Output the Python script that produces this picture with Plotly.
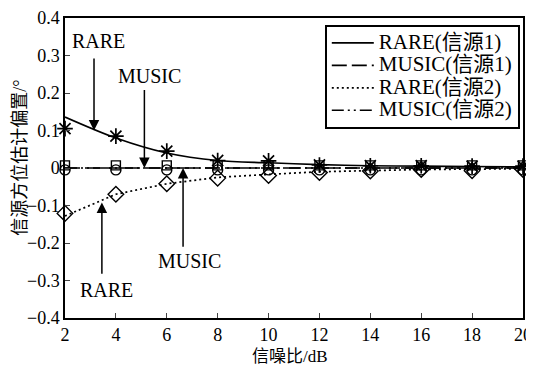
import plotly.graph_objects as go

snr = [2, 4, 6, 8, 10, 12, 14, 16, 18, 20]

# theoretical curves (lines)
rare1_line = [0.136, 0.080, 0.040, 0.020, 0.014, 0.009, 0.006, 0.005, 0.004, 0.003]
music1_line = [0, 0, 0, 0, 0, 0, 0, 0, 0, 0]
rare2_line = [-0.128, -0.070, -0.042, -0.025, -0.017, -0.010, -0.007, -0.004, -0.003, -0.002]
music2_line = [0, 0, 0, 0, 0, 0, 0, 0, 0, 0]

# simulated points (markers)
rare1_pts = [0.105, 0.085, 0.045, 0.020, 0.019, 0.008, 0.006, 0.006, 0.005, 0.005]
music1_pts = [0.007, 0.007, 0.007, 0.007, 0.007, 0.007, 0.007, 0.007, 0.007, 0.007]
rare2_pts = [-0.121, -0.070, -0.042, -0.027, -0.020, -0.012, -0.008, -0.004, -0.007, -0.004]
music2_pts = [-0.005, -0.005, -0.005, -0.005, -0.005, -0.005, -0.005, -0.005, -0.005, -0.005]

names = ["RARE(信源1)", "MUSIC(信源1)", "RARE(信源2)", "MUSIC(信源2)"]
y_ticks = [-0.4, -0.3, -0.2, -0.1, 0, 0.1, 0.2, 0.3, 0.4]
y_ticktext = ["−0.4", "−0.3", "−0.2", "−0.1", "0", "0.1", "0.2", "0.3", "0.4"]

FONT = "Liberation Serif, Noto Sans CJK SC"
K = "black"


def leg(name):
    return '<span style="font-size:21px">' + name + '</span>'


fig = go.Figure()

# lines
fig.add_trace(go.Scatter(x=snr, y=music2_line, mode="lines", name=leg(names[3]),
                         line=dict(color=K, width=1.5, dash="12px,4px,2px,4px,2px,4px"), legendrank=4))
fig.add_trace(go.Scatter(x=snr, y=rare1_line, mode="lines", name=leg(names[0]),
                         line=dict(color=K, width=1.7, shape="spline", smoothing=0.9), legendrank=1))
fig.add_trace(go.Scatter(x=snr, y=music1_line, mode="lines", name=leg(names[1]),
                         line=dict(color=K, width=1.7, dash="15px,5px"), legendrank=2))
fig.add_trace(go.Scatter(x=snr, y=rare2_line, mode="lines", name=leg(names[2]),
                         line=dict(color=K, width=1.7, dash="2px,3px"), legendrank=3))

# markers
mk = dict(mode="markers", showlegend=False, cliponaxis=False)
fig.add_trace(go.Scatter(x=snr, y=music1_pts, **mk,
                         marker=dict(symbol="square-open", size=9, color=K, line=dict(width=1.4))))
fig.add_trace(go.Scatter(x=snr, y=music2_pts, **mk,
                         marker=dict(symbol="circle-open", size=10, color=K, line=dict(width=1.4))))
fig.add_trace(go.Scatter(x=snr, y=rare2_pts, **mk,
                         marker=dict(symbol="diamond-open", size=12, color=K, line=dict(width=1.4))))
fig.add_trace(go.Scatter(x=snr, y=rare1_pts, **mk,
                         marker=dict(symbol="asterisk-open", size=13, color=K, line=dict(width=1.7))))

# annotation labels and arrows
labels = ["RARE", "MUSIC", "RARE", "MUSIC"]
label_x = [3.32, 5.31, 3.62, 6.89]
label_y = [0.339, 0.246, -0.325, -0.249]
arrow_x = [3.14, 5.12, 3.45, 6.64]
arrow_tail_y = [0.296, 0.212, -0.286, -0.214]
arrow_tip_y = [0.100, 0.0, -0.092, 0.0]

for t, lx, ly in zip(labels, label_x, label_y):
    fig.add_annotation(x=lx, y=ly, text=t, showarrow=False,
                       font=dict(family=FONT, size=20, color=K))
for ax_, ty, hy in zip(arrow_x, arrow_tail_y, arrow_tip_y):
    fig.add_annotation(x=ax_, y=hy, ax=ax_, ay=ty, axref="x", ayref="y", text="",
                       showarrow=True, arrowhead=2, arrowsize=1.4, arrowwidth=1.5, arrowcolor=K)

# axis titles
fig.add_annotation(xref="paper", yref="paper", x=0.491, y=-0.127, text="信噪比/dB",
                   xanchor="center", yanchor="middle",
                   showarrow=False, font=dict(family=FONT, size=17, color=K))
fig.add_annotation(xref="paper", yref="paper", x=-0.10, y=0.535, text="信源方位估计偏置/°",
                   xanchor="center", yanchor="middle",
                   textangle=-90, showarrow=False, font=dict(family=FONT, size=18, color=K))

# the page body adds an 8px offset; the figure is sized to fit the window
fig.update_layout(
    width=526, height=364,
    margin=dict(l=57, r=11, t=10, b=54),
    paper_bgcolor="white", plot_bgcolor="white",
    font=dict(family=FONT, size=18, color=K),
    showlegend=True,
    legend=dict(x=0.993, xanchor="right", y=0.978, yanchor="top",
                bgcolor="white", bordercolor=K, borderwidth=2,
                font=dict(family=FONT, size=15, color=K),
                itemwidth=42, tracegroupgap=0),
)
fig.update_xaxes(range=[2, 20], tickvals=snr, ticks="inside", ticklen=5, tickwidth=1.3,
                 showline=True, linecolor=K, linewidth=1.5, mirror=True, showgrid=False,
                 zeroline=False, automargin=False, ticklabeloverflow="allow",
                 tickfont=dict(family=FONT, size=18))
fig.update_yaxes(range=[-0.4, 0.4], tickvals=y_ticks, ticktext=y_ticktext,
                 ticks="inside", ticklen=5, tickwidth=1.3,
                 showline=True, linecolor=K, linewidth=1.5, mirror=True, showgrid=False,
                 zeroline=False, automargin=False, ticklabeloverflow="allow",
                 tickfont=dict(family=FONT, size=18))

fig.write_html("out.html")
